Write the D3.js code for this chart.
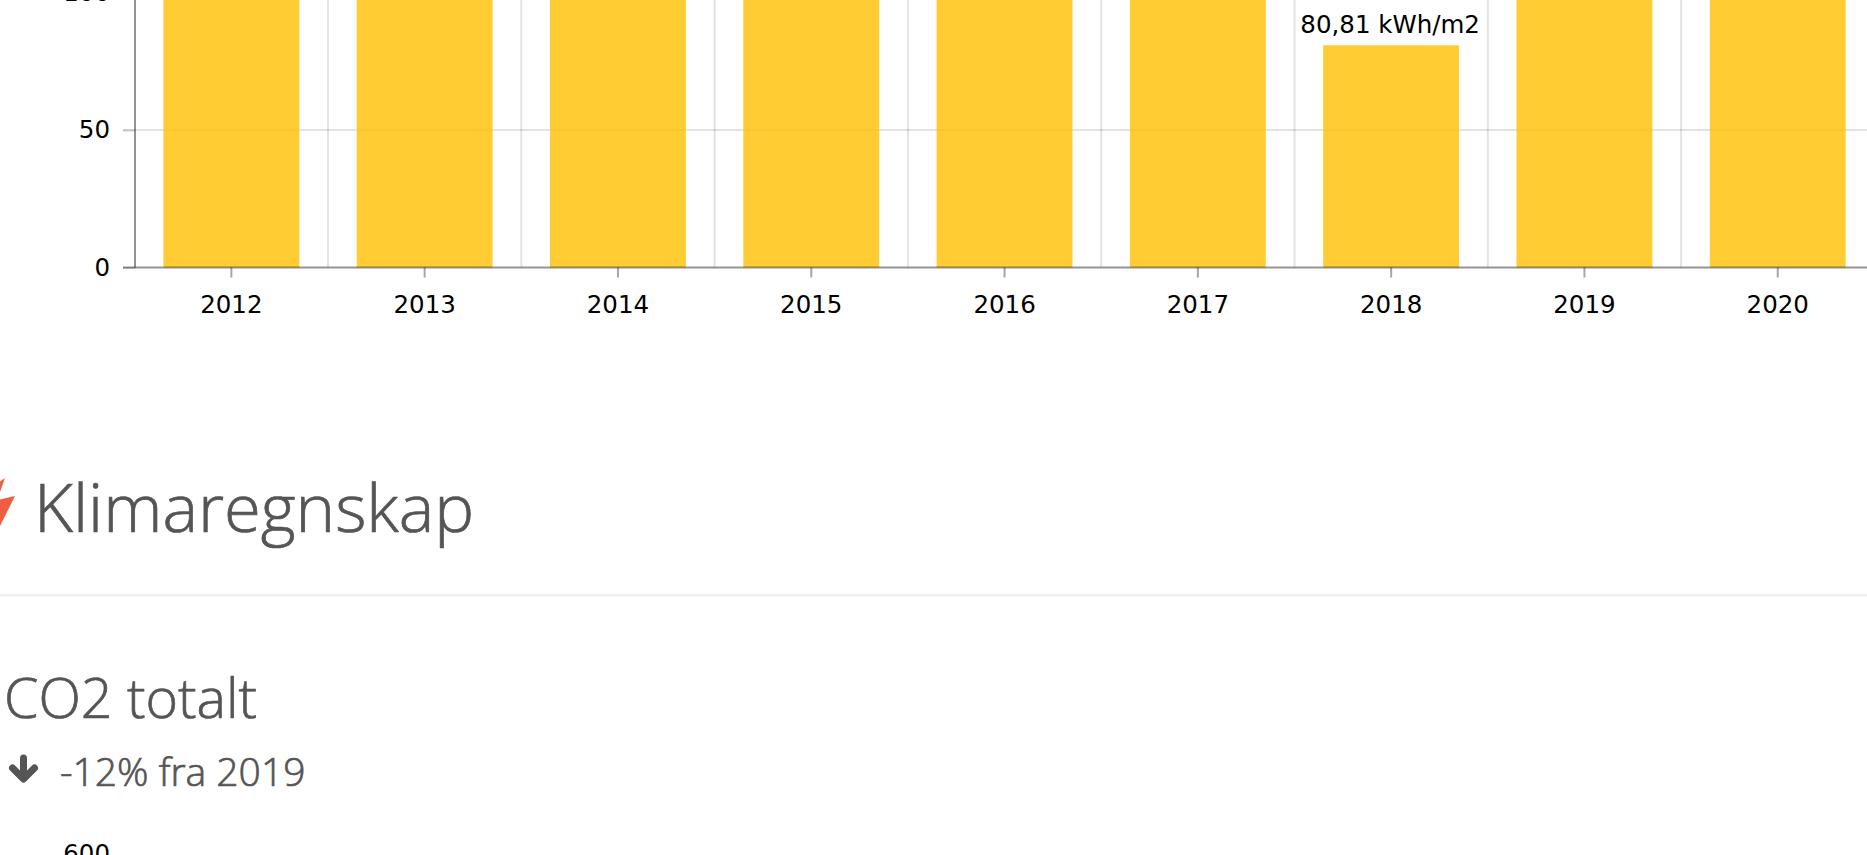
<!DOCTYPE html>
<html>
<head>
<meta charset="utf-8">
<script src="https://cdnjs.cloudflare.com/ajax/libs/d3/7.8.5/d3.min.js"></script>
<style>
  html, body { margin: 0; padding: 0; background: #fff; overflow: hidden; }
  svg { display: block; }
  .axis text, .label { font-family: "DejaVu Sans", Verdana, sans-serif; font-size: 24.5px; fill: #000; }
  .head { font-family: "Open Sans", sans-serif; font-weight: 300; fill: #555; stroke: #555; stroke-width: 0.7px; }
</style>
</head>
<body>
<div id="chart"></div>
<script>
var years = [2012, 2013, 2014, 2015, 2016, 2017, 2018, 2019, 2020];
// only 2018 can be read, the other bars run off the top of the picture (rough guess)
var kwh = [128, 126, 124, 122, 121, 119, 80.81, 117, 112];
var yTicks = [0, 50, 100];
var co2Ticks = [600];

var w = 1867, h = 855;

var svg = d3.select("#chart").append("svg")
    .attr("width", w)
    .attr("height", h);

var x = d3.scaleBand()
    .domain(years)
    .range([134.7, 134.7 + 193.3 * years.length])
    .paddingInner(0.297)
    .paddingOuter(0.1485);

var y = d3.scaleLinear()
    .domain([0, 100])
    .range([267.5, -7.5]);

// grid
svg.append("g").selectAll("line")
    .data(years)
  .enter().append("line")
    .attr("x1", function (d) { return x(d) + x.bandwidth() / 2 + x.step() / 2; })
    .attr("x2", function (d) { return x(d) + x.bandwidth() / 2 + x.step() / 2; })
    .attr("y1", 0)
    .attr("y2", y(0))
    .style("stroke", "#000")
    .style("stroke-opacity", 0.11)
    .style("stroke-width", 2);

svg.append("g").selectAll("line")
    .data(yTicks.slice(1))
  .enter().append("line")
    .attr("x1", 123)
    .attr("x2", w)
    .attr("y1", function (d) { return y(d); })
    .attr("y2", function (d) { return y(d); })
    .style("stroke", "#000")
    .style("stroke-opacity", 0.11)
    .style("stroke-width", 2);

// bars
svg.append("g").selectAll("rect")
    .data(kwh)
  .enter().append("rect")
    .attr("x", function (d, i) { return x(years[i]); })
    .attr("width", x.bandwidth())
    .attr("y", function (d) { return y(d); })
    .attr("height", function (d) { return y(0) - y(d); })
    .style("fill", "#ffc000")
    .style("fill-opacity", 0.8);

// value labels, the others are outside the picture
svg.append("g").selectAll("text")
    .data(kwh.map(function (d, i) { return { year: years[i], value: d }; })
      .filter(function (d) { return d.value < 97; }))
  .enter().append("text")
    .attr("class", "label")
    .attr("x", function (d) { return x(d.year) + x.bandwidth() / 2 - 1; })
    .attr("y", function (d) { return y(d.value) - 12; })
    .attr("text-anchor", "middle")
    .text(function (d) { return String(d.value).replace(".", ",") + " kWh/m2"; });

// axes
var yAxis = d3.axisLeft(y).tickValues(yTicks).tickSize(12).tickPadding(13);
var xAxis = d3.axisBottom(x).tickSize(10).tickPadding(18);

var gy = svg.append("g")
    .attr("class", "axis")
    .attr("transform", "translate(135,0)")
    .call(yAxis);
gy.select(".domain").remove();
svg.append("line")
    .attr("x1", 135).attr("x2", 135).attr("y1", 0).attr("y2", y(0))
    .style("stroke", "#000").style("stroke-opacity", 0.42).style("stroke-width", 2);
gy.selectAll(".tick line").style("stroke", "#000").style("stroke-opacity", 0.15).style("stroke-width", 2);

var gx = svg.append("g")
    .attr("class", "axis")
    .attr("transform", "translate(0," + y(0) + ")")
    .call(xAxis);
gx.select(".domain").remove();
svg.append("line")
    .attr("x1", 123).attr("x2", w).attr("y1", y(0)).attr("y2", y(0))
    .style("stroke", "#000").style("stroke-opacity", 0.42).style("stroke-width", 2);
gx.selectAll(".tick line").style("stroke", "#000").style("stroke-opacity", 0.35).style("stroke-width", 2);

// next chart only shows its top tick label
var y2 = d3.scaleLinear().domain([0, 600]).range([1400, 854]);
var gy2 = svg.append("g")
    .attr("class", "axis")
    .attr("transform", "translate(135,0)")
    .call(d3.axisLeft(y2).tickValues(co2Ticks).tickSize(0).tickPadding(25));
gy2.select(".domain").remove();

// bolt icon
svg.append("path")
    .attr("d", "M5,478 L-12,490 L0,492 Z M-6,501 L15,496 L-8,542 Z")
    .style("fill", "#ee5f42");

svg.append("text")
    .attr("class", "head")
    .attr("x", 34)
    .attr("y", 532)
    .style("font-size", "67px")
    .text("Klimaregnskap");

svg.append("rect")
    .attr("x", 0).attr("y", 594)
    .attr("width", w).attr("height", 2.5)
    .style("fill", "#eee");

svg.append("text")
    .attr("class", "head")
    .attr("x", 4)
    .attr("y", 718)
    .style("font-size", "55.5px")
    .text("CO2 totalt");

// arrow icon
svg.append("path")
    .attr("d", "M23.5,758 V778 M12.5,768 L23.5,779 L34.5,768")
    .style("fill", "none")
    .style("stroke", "#555")
    .style("stroke-width", 7)
    .style("stroke-linejoin", "round")
    .style("stroke-linecap", "round");

svg.append("text")
    .attr("class", "head")
    .attr("x", 60)
    .attr("y", 786)
    .style("font-size", "39px")
    .text("-12% fra 2019");
</script>
</body>
</html>
